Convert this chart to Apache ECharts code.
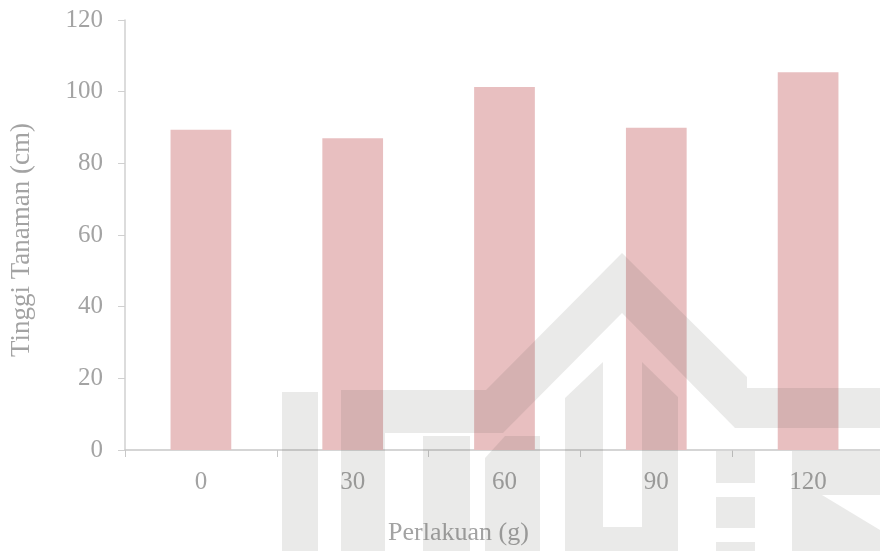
<!DOCTYPE html>
<html>
<head>
<meta charset="utf-8">
<script src="https://cdn.jsdelivr.net/npm/echarts@6/dist/echarts.min.js"></script>
<style>
  html, body { margin: 0; padding: 0; background: #fff; }
  #chart { width: 880px; height: 551px; }
</style>
</head>
<body>
<div id="chart"></div>
<script>
// data
var categories = ['0', '30', '60', '90', '120'];
var tinggi = [89.4, 87.0, 101.3, 89.9, 105.4];
var yMin = 0, yMax = 120, yStep = 20;

var gray = '#a3a3a3';
var serif = '"Liberation Serif", "DejaVu Serif", serif';

// faint logo watermark drawn over the chart
var wmFill = 'rgba(80,85,70,0.12)';
function poly(pts) {
  return { type: 'polygon', silent: true, z: 100, shape: { points: pts }, style: { fill: wmFill } };
}
var watermark = [
  poly([[282, 392], [318, 392], [318, 551], [282, 551]]),
  poly([[341, 390], [486, 390], [622, 253], [747, 377], [747, 388], [880, 388], [880, 428],
        [735, 428], [622, 313], [503, 433], [385, 433], [385, 551], [341, 551]]),
  poly([[423, 436], [470, 436], [470, 551], [423, 551]]),
  poly([[505, 436], [540, 436], [540, 551], [485, 551], [485, 458]]),
  poly([[565, 398], [603, 362], [603, 527], [642, 527], [642, 362], [678, 397], [678, 551], [565, 551]]),
  poly([[716, 451], [755, 451], [755, 483], [716, 483]]),
  poly([[716, 497], [755, 497], [755, 528], [716, 528]]),
  poly([[716, 542], [755, 542], [755, 551], [716, 551]]),
  poly([[792, 451], [880, 451], [880, 495], [822, 495], [880, 530], [880, 551], [792, 551]])
];

var myChart = echarts.init(document.getElementById('chart'));
var option = {
  backgroundColor: '#ffffff',
  animation: false,
  grid: { left: 125, width: 759, top: 20, bottom: 101, outerBoundsMode: 'none' },
  xAxis: {
    type: 'category',
    data: categories,
    name: 'Perlakuan (g)',
    nameLocation: 'middle',
    nameGap: 70,
    nameTextStyle: { color: gray, fontFamily: serif, fontSize: 26, padding: [0, 92, 0, 0] },
    axisLine: { lineStyle: { color: '#c8c8c8', width: 1.5 } },
    axisTick: { show: true, length: 7, alignWithLabel: false, lineStyle: { color: '#c8c8c8' } },
    axisLabel: { color: gray, fontFamily: serif, fontSize: 25, margin: 20 },
    splitLine: { show: false }
  },
  yAxis: {
    type: 'value',
    min: yMin,
    max: yMax,
    interval: yStep,
    name: 'Tinggi Tanaman (cm)',
    nameLocation: 'middle',
    nameGap: 90,
    nameTextStyle: { color: gray, fontFamily: serif, fontSize: 27, padding: [0, 10, 0, 0] },
    axisLine: { show: true, lineStyle: { color: '#d0d0d0', width: 1.5 } },
    axisTick: { show: true, length: 7, lineStyle: { color: '#d0d0d0' } },
    axisLabel: { color: gray, fontFamily: serif, fontSize: 25, margin: 22 },
    splitLine: { show: false }
  },
  series: [{
    type: 'bar',
    data: tinggi,
    barWidth: '40%',
    itemStyle: { color: '#e8bfc0' }
  }],
  graphic: watermark
};
myChart.setOption(option);
</script>
</body>
</html>
